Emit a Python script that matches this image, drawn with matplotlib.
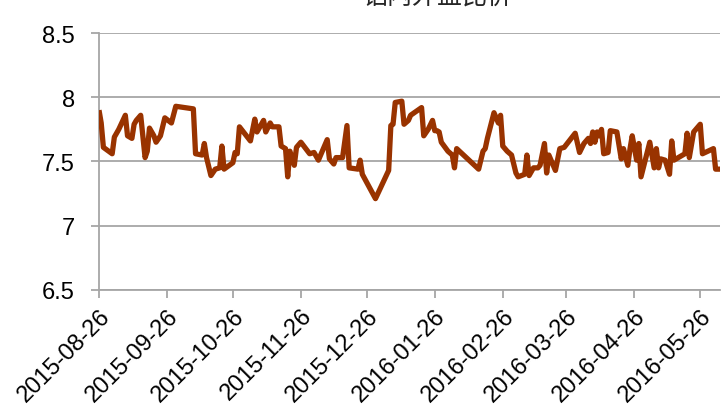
import matplotlib
matplotlib.use("Agg")
import matplotlib.pyplot as plt
import pandas as pd

# ---- data ----
start_date = "2015-08-26"
days_since_start = [0, 1, 2, 6, 7, 9, 12, 13, 15, 16, 17, 19, 21, 22, 23, 25, 26, 28, 30, 33,
                    35, 43, 44, 47, 48, 49, 51, 53, 55, 56, 57, 61, 62, 63, 64, 69, 71, 72, 75, 76,
                    78, 79, 82, 83, 85, 86, 87, 89, 90, 92, 96, 98, 100, 104, 105, 107, 108, 111, 113, 114,
                    118, 119, 120, 126, 132, 133, 134, 135, 138, 139, 141, 142, 147, 148, 150, 152, 153, 154, 155, 156,
                    159, 161, 162, 163, 173, 175, 176, 177, 180, 182, 183, 184, 186, 188, 190, 191, 194, 195, 196, 198,
                    200, 201, 203, 204, 205, 208, 210, 212, 217, 219, 221, 223, 224, 225, 226, 227, 228, 229, 230, 232,
                    233, 236, 238, 239, 241, 242, 243, 245, 246, 247, 251, 253, 254, 255, 256, 258, 260, 261, 262, 267,
                    268, 269, 271, 274, 275, 280, 281, 283]
ratio_values = [7.90, 7.80, 7.61, 7.56, 7.69, 7.75, 7.86, 7.70, 7.68, 7.79, 7.82, 7.86, 7.53, 7.58, 7.76, 7.70, 7.65, 7.70, 7.84, 7.80,
                7.93, 7.91, 7.56, 7.55, 7.64, 7.53, 7.39, 7.44, 7.45, 7.62, 7.44, 7.49, 7.57, 7.56, 7.77, 7.66, 7.83, 7.73, 7.82, 7.73,
                7.80, 7.77, 7.77, 7.62, 7.60, 7.38, 7.58, 7.47, 7.61, 7.65, 7.56, 7.57, 7.51, 7.67, 7.52, 7.48, 7.53, 7.53, 7.78, 7.45,
                7.44, 7.51, 7.40, 7.21, 7.43, 7.78, 7.79, 7.96, 7.97, 7.79, 7.82, 7.86, 7.92, 7.70, 7.75, 7.82, 7.74, 7.74, 7.73, 7.65,
                7.58, 7.55, 7.45, 7.60, 7.44, 7.58, 7.60, 7.68, 7.88, 7.80, 7.86, 7.62, 7.58, 7.55, 7.41, 7.38, 7.40, 7.55, 7.39, 7.45,
                7.45, 7.47, 7.64, 7.41, 7.55, 7.43, 7.60, 7.61, 7.72, 7.57, 7.64, 7.68, 7.64, 7.73, 7.65, 7.73, 7.70, 7.75, 7.56, 7.57,
                7.74, 7.73, 7.52, 7.60, 7.47, 7.60, 7.70, 7.51, 7.64, 7.38, 7.65, 7.45, 7.60, 7.45, 7.52, 7.51, 7.40, 7.66, 7.51, 7.56,
                7.72, 7.53, 7.73, 7.79, 7.56, 7.60, 7.44, 7.44]
x_tick_labels = ["2015-08-26", "2015-09-26", "2015-10-26", "2015-11-26", "2015-12-26",
                 "2016-01-26", "2016-02-26", "2016-03-26", "2016-04-26", "2016-05-26"]
y_ticks = [6.5, 7, 7.5, 8, 8.5]
y_tick_labels = ["6.5", "7", "7.5", "8", "8.5"]
title_text = "铝内外盘比价"

dates = pd.Timestamp(start_date) + pd.to_timedelta(days_since_start, unit="D")
tick_dates = pd.to_datetime(x_tick_labels)

fig = plt.figure(figsize=(7.25, 4.14), dpi=100)
ax = fig.add_axes([99 / 725, 1 - 290.7 / 414, (720 - 99) / 725, (290.7 - 34.2) / 414])

grid_c = "#a6a6a6"
ax.plot(dates, ratio_values, color="#993300", lw=3.8, solid_joinstyle="round",
        solid_capstyle="butt", zorder=3)

ax.set_ylim(6.5, 8.5)
ax.set_xlim(dates[0], dates[-1])
ax.set_yticks(y_ticks)
ax.set_yticklabels(y_tick_labels)
ax.set_xticks(tick_dates)
ax.set_xticklabels(x_tick_labels, rotation=45, ha="right", va="top", rotation_mode="anchor")

ax.grid(axis="y", color=grid_c, lw=1.3, zorder=1)
for s in ["top", "right"]:
    ax.spines[s].set_visible(False)
for s in ["left", "bottom"]:
    ax.spines[s].set_color(grid_c)
    ax.spines[s].set_linewidth(1.3)
ax.tick_params(axis="both", color=grid_c, width=1.3, length=5.5, direction="out")
ax.tick_params(axis="y", pad=12, labelsize=17, labelcolor="#000000")
ax.tick_params(axis="x", pad=5, labelsize=17, labelcolor="#000000")
for lab in ax.get_xticklabels() + ax.get_yticklabels():
    lab.set_fontfamily("Liberation Sans")

fig.text(437 / 725, 1 - 4 / 414, title_text, ha="center", va="baseline",
         fontsize=18, color="#262626", family=["Noto Sans CJK SC", "DejaVu Sans"])

fig.savefig("out.png", dpi=100)
